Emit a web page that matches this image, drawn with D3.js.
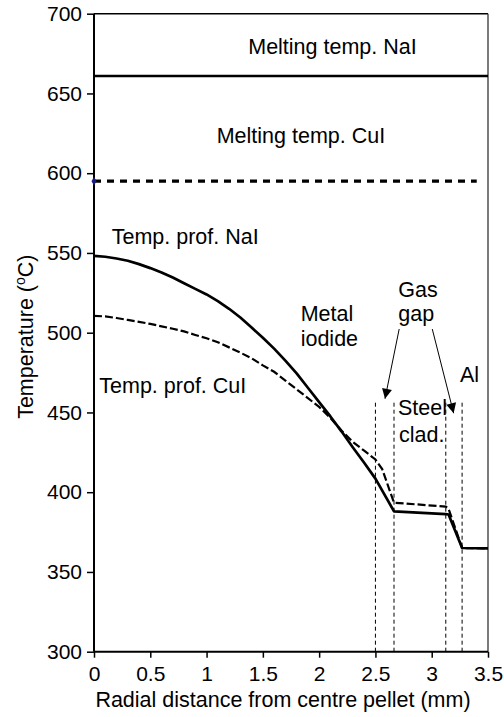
<!DOCTYPE html>
<html>
<head>
<meta charset="utf-8">
<script src="https://cdn.jsdelivr.net/npm/d3@7"></script>
<style>
html,body{margin:0;padding:0;background:#fff;}
text{font-family:"Liberation Sans",Arial,sans-serif;fill:#000;}
</style>
</head>
<body>
<svg id="chart" width="504" height="717"></svg>
<script>
// ---- data ----
const xNaI = [0,0.1,0.2,0.3,0.4,0.5,0.6,0.7,0.8,0.9,1.0,1.1,1.2,1.3,1.4,1.5,1.6,1.7,1.8,1.9,2.0,2.1,2.2,2.3,2.4,2.5,2.665,3.125,3.15,3.27,3.5];
const tNaI = [548.2,547.6,546.5,545.1,543.0,540.5,537.8,534.6,531.0,527.5,524.0,519.8,515.0,509.5,503.2,496.8,490.0,482.5,474.5,465.5,456.5,447.5,438.0,428.0,418.5,408.5,388.0,386.3,386.0,365.0,364.8];
const xCuI = [0,0.1,0.2,0.3,0.4,0.5,0.6,0.7,0.8,0.9,1.0,1.1,1.2,1.3,1.4,1.5,1.6,1.7,1.8,1.9,2.0,2.1,2.2,2.3,2.4,2.5,2.56,2.665,3.125,3.15,3.27,3.5];
const tCuI = [510.6,510.2,509.2,508.0,506.8,505.5,504.0,502.5,500.8,498.6,496.5,494.0,490.8,487.5,484.0,479.5,475.5,470.0,464.5,459.0,453.5,446.5,438.5,431.5,426.0,420.5,414.5,393.4,391.0,389.5,365.0,364.8];
const meltNaI = 661;
const meltCuI = 595;
const meltNaIRange = [0, 3.5];
const meltCuIRange = [0, 3.4];
const boundaries = [2.5, 2.665, 3.125, 3.27];
const boundaryTop = 458;
const xTicks = [0,0.5,1,1.5,2,2.5,3,3.5];
const yTicks = [300,350,400,450,500,550,600,650,700];
const xTitle = "Radial distance from centre pellet (mm)";
// annotations: [text, x, T]
const labels = [
  ["Melting temp. NaI", 1.37, 674.7],
  ["Melting temp. CuI", 1.09, 618.7],
  ["Temp. prof. NaI", 0.157, 555.6],
  ["Temp. prof. CuI", 0.047, 462],
  ["Metal", 1.836, 507.5],
  ["iodide", 1.836, 491.7],
  ["Gas", 2.703, 522.2],
  ["gap", 2.703, 507.5],
  ["Steel", 2.7, 448.4],
  ["clad.", 2.71, 431.7],
  ["Al", 3.251, 469.3]
];
// arrows: [x0, T0, x1, T1]
const arrows = [
  [2.711, 502.3, 2.585, 458.6],
  [3.005, 502.3, 3.195, 449.5]
];

// ---- drawing ----
const svg = d3.select("#chart");
const L = 94, R = 488, T = 13.7, B = 651.7;
const x = d3.scaleLinear().domain([0,3.5]).range([L,R]);
const y = d3.scaleLinear().domain([300,700]).range([B,T]);

svg.append("defs").append("marker")
  .attr("id","ah").attr("viewBox","0 0 10 10").attr("refX",10).attr("refY",5)
  .attr("markerWidth",12).attr("markerHeight",10).attr("markerUnits","userSpaceOnUse")
  .attr("orient","auto")
  .append("path").attr("d","M0,0 L10,5 L0,10 Z").attr("fill","#000");

// frame top/right
svg.append("line").attr("x1",L).attr("x2",R).attr("y1",T).attr("y2",T).attr("stroke","#000").attr("stroke-width",1.5);
svg.append("line").attr("x1",R).attr("x2",R).attr("y1",T).attr("y2",B).attr("stroke","#333").attr("stroke-width",1.3);

// axes
const yAxis = svg.append("g").attr("transform",`translate(${L},0)`)
  .call(d3.axisLeft(y).tickValues(yTicks).tickSize(7).tickPadding(5).tickFormat(d3.format("d")));
const xAxis = svg.append("g").attr("transform",`translate(0,${B})`)
  .call(d3.axisBottom(x).tickValues(xTicks).tickSize(6).tickPadding(8).tickFormat(d => String(d)));
[yAxis,xAxis].forEach(g=>{
  g.select(".domain").attr("stroke","#000").attr("stroke-width",2);
  g.selectAll(".tick line").attr("stroke","#000").attr("stroke-width",1.5);
  g.selectAll(".tick text").attr("font-size",21).attr("font-family","Liberation Sans, Arial, sans-serif").attr("fill","#000");
});
xAxis.selectAll(".domain").attr("d",`M${L},0H${R}`);
yAxis.selectAll(".domain").attr("d",`M0,${B}V${T}`);

// titles
svg.append("text").attr("x",(L+R)/2 - 8).attr("y",707.3).attr("text-anchor","middle")
  .attr("font-size",21.5).text(xTitle);
const yt = svg.append("text").attr("transform",`translate(33,${(T+B)/2+4}) rotate(-90)`)
  .attr("text-anchor","middle").attr("font-size",21.5);
yt.append("tspan").text("Temperature (");
yt.append("tspan").attr("font-size",14).attr("dy",-8).text("o");
yt.append("tspan").attr("dy",8).text("C)");

// boundary dashed lines
svg.append("g").selectAll("line").data(boundaries).join("line")
  .attr("x1",d=>x(d)).attr("x2",d=>x(d)).attr("y1",y(300)).attr("y2",y(boundaryTop))
  .attr("stroke","#000").attr("stroke-width",1).attr("stroke-dasharray","4,3");

// melting lines
svg.append("line").attr("x1",x(meltNaIRange[0])).attr("x2",x(meltNaIRange[1]))
  .attr("y1",y(meltNaI)).attr("y2",y(meltNaI)).attr("stroke","#000").attr("stroke-width",2.5);
svg.append("line").attr("x1",x(meltCuIRange[0])).attr("x2",x(meltCuIRange[1]))
  .attr("y1",y(meltCuI)).attr("y2",y(meltCuI)).attr("stroke","#000").attr("stroke-width",3.2)
  .attr("stroke-dasharray","7,6");
svg.append("path").attr("d",d3.symbol().type(d3.symbolDiamond).size(22)())
  .attr("transform",`translate(${x(0)},${y(meltCuI)})`).attr("fill","#1a1a80");

// profiles
const line = d3.line().x(d=>x(d[0])).y(d=>y(d[1]));
svg.append("path").datum(xCuI.map((v,i)=>[v,tCuI[i]])).attr("d",line)
  .attr("fill","none").attr("stroke","#000").attr("stroke-width",2.2).attr("stroke-dasharray","8,3");
svg.append("path").datum(xNaI.map((v,i)=>[v,tNaI[i]])).attr("d",line)
  .attr("fill","none").attr("stroke","#000").attr("stroke-width",2.7).attr("stroke-linejoin","round");

// labels
svg.append("g").selectAll("text").data(labels).join("text")
  .attr("x",d=>x(d[1])).attr("y",d=>y(d[2])).attr("font-size",21.5).text(d=>d[0]);

// arrows
svg.append("g").selectAll("line").data(arrows).join("line")
  .attr("x1",d=>x(d[0])).attr("y1",d=>y(d[1])).attr("x2",d=>x(d[2])).attr("y2",d=>y(d[3]))
  .attr("stroke","#000").attr("stroke-width",1).attr("marker-end","url(#ah)");
</script>
</body>
</html>
